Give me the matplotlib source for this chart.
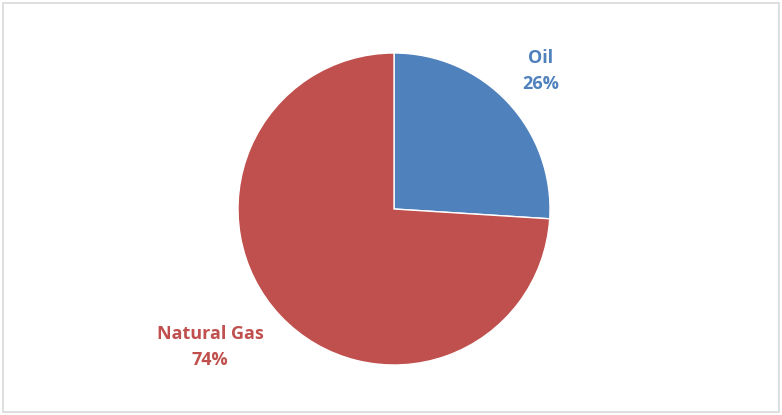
import matplotlib.pyplot as plt
from matplotlib.patches import Rectangle

categories = ["Oil", "Natural Gas"]
shares = [26, 74]
colors = ["#4F81BD", "#C0504D"]
label_pos = [(0.94, 0.885), (-1.18, -0.885)]

W, H = 782, 415
fig = plt.figure(figsize=(W / 100, H / 100), dpi=100)
fig.patch.set_facecolor("white")

# light frame round the chart area
fig.patches.append(Rectangle((3 / W, 3 / H), 776 / W, 409 / H, transform=fig.transFigure,
                             fill=False, edgecolor="#D9D9D9", linewidth=1.2))

r = 156
cx, cy = 394, 415 - 209
ax = fig.add_axes([(cx - r) / W, (cy - r) / H, 2 * r / W, 2 * r / H])
ax.pie(shares, colors=colors, startangle=90, counterclock=False, radius=1,
       wedgeprops=dict(edgecolor="white", linewidth=1))
ax.set_xlim(-1, 1)
ax.set_ylim(-1, 1)
ax.set_aspect("equal")
ax.axis("off")

for name, val, col, (x, y) in zip(categories, shares, colors, label_pos):
    ax.text(x, y, f"{name}\n{val}%", color=col, fontsize=13, fontweight="bold",
            family=["Open Sans", "DejaVu Sans"], ha="center", va="center", linespacing=1.6)

fig.savefig("out.png", dpi=100)
